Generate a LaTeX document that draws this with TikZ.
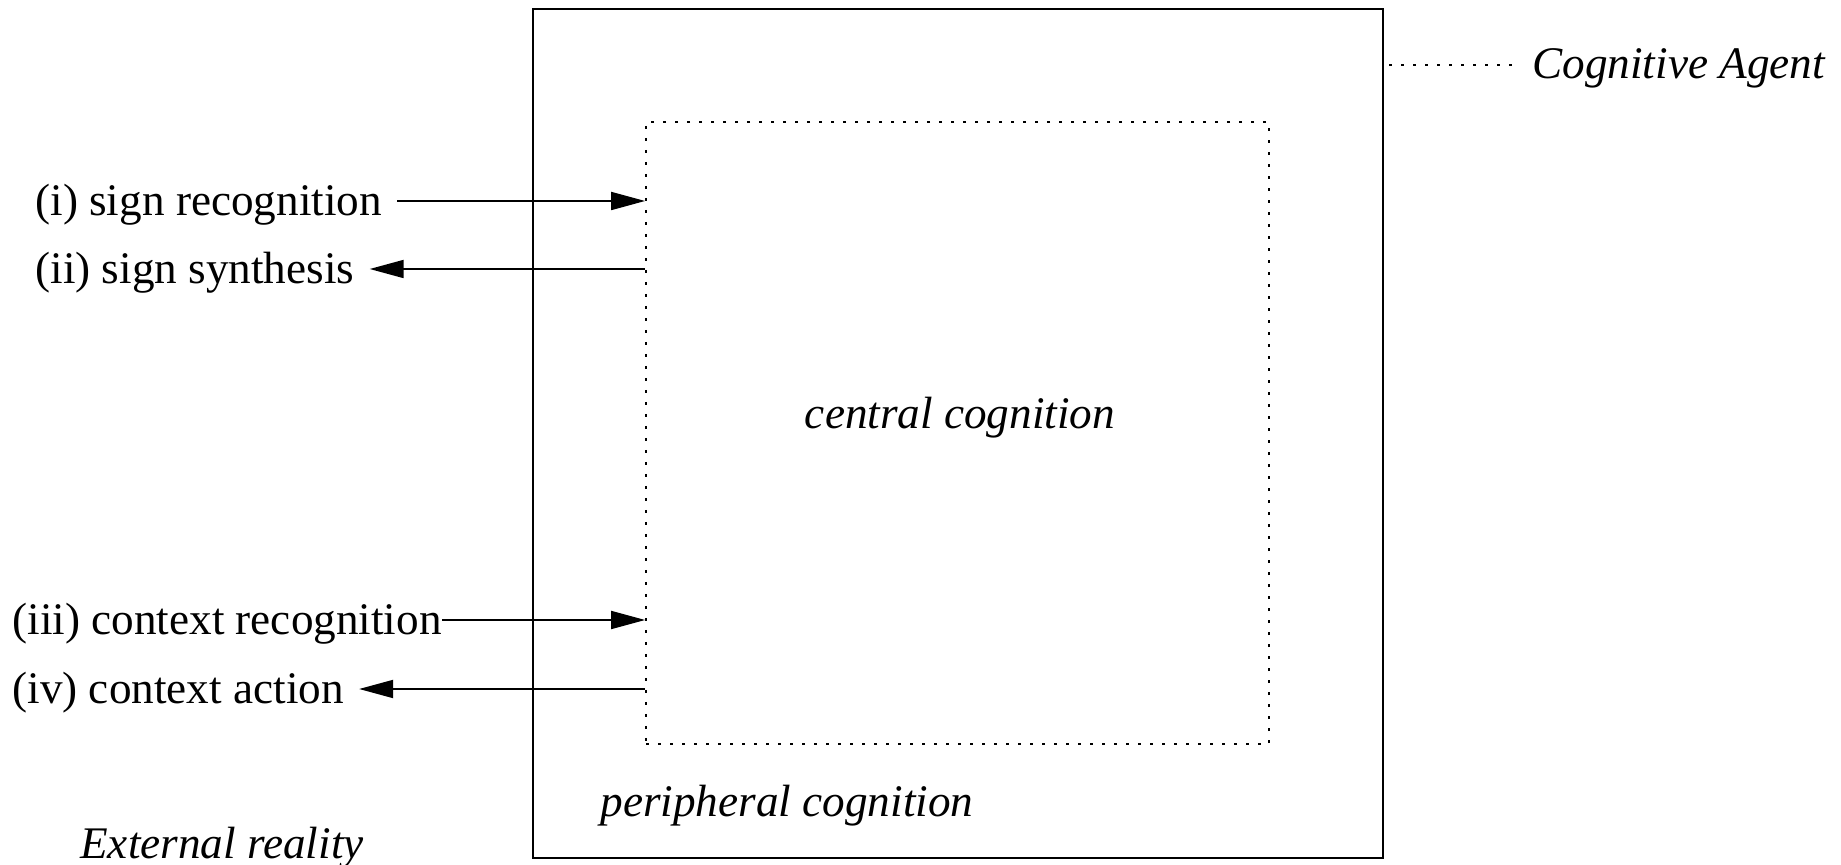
\documentclass[tikz,border=0pt]{standalone}
\usepackage{fontspec}
\setmainfont{Liberation Serif}
\usetikzlibrary{arrows.meta}

\begin{document}
\begin{tikzpicture}[x=0.5pt,y=0.5pt,yscale=-1,xscale=1,
  every node/.style={font=\fontsize{22.6}{27}\selectfont, inner sep=7.5pt},
  lbl/.style={anchor=west},
  itlbl/.style={font=\fontsize{22.6}{27}\selectfont\itshape},
  dotline/.style={line width=0.9pt, dash pattern=on 1.4pt off 4.6pt},
  arr/.style={line width=0.9pt, -{Triangle[length=17pt,width=9pt]}}]
\useasboundingbox (0,0) rectangle (1841,865);

%Outer box (agent)
\node[draw, line width=1pt, minimum width=425pt, minimum height=424.5pt] (agent) at (958,433.5) {};

%Dotted inner box
\node[draw, dotline, minimum width=311.5pt, minimum height=311pt] (central) at (957.5,433) {};

% Text Node
\node[itlbl] (centraltxt) at (960,417.5) {central cognition};
% Text Node
\node[itlbl] (periph) at (787,805.5) {peripheral cognition};
% Text Node
\node[itlbl] (extern) at (222,847.5) {External reality};
% Text Node
\node[itlbl, anchor=west] (agentlbl) at (1517,68.5) {Cognitive Agent};

% Text Node
\node[lbl] (signrec) at (20,204.5) {(i) sign recognition};
% Text Node
\node[lbl] (signsyn) at (20,272.5) {(ii) sign synthesis};
% Text Node
\node[lbl, inner xsep=0pt] (ctxrec) at (12,623.5) {(iii) context recognition};
% Text Node
\node[lbl] (ctxact) at (-3,692.5) {(iv) context action};

%Straight Lines
\draw[dotline] ([xshift=2.5pt,yshift=-1.75pt]agent.east |- agentlbl.west) -- ([yshift=-1.75pt]agentlbl.west);

%Arrows
\draw[arr] ([yshift=-1.75pt]signrec.east) -- ([yshift=-1.75pt]signrec.east -| central.west);
\draw[arr] ([yshift=-1.75pt]signsyn.east -| central.west) -- ([yshift=-1.75pt]signsyn.east);
\draw[arr] ([yshift=-1.75pt]ctxrec.east) -- ([yshift=-1.75pt]ctxrec.east -| central.west);
\draw[arr] ([yshift=-1.75pt]ctxact.east -| central.west) -- ([yshift=-1.75pt]ctxact.east);

\end{tikzpicture}
\end{document}
